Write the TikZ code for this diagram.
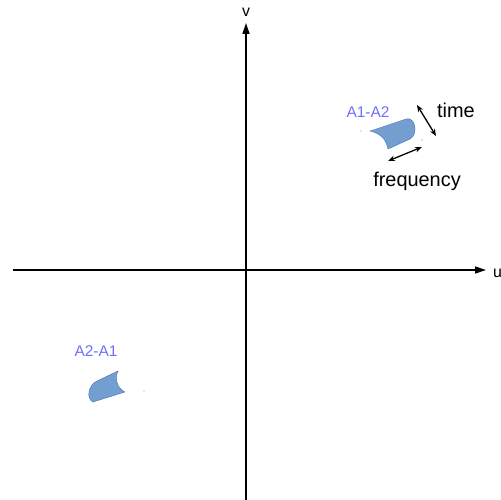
\documentclass[tikz,border=0pt]{standalone}
\usepackage{fontspec}
\setmainfont{Liberation Sans}
\usetikzlibrary{arrows.meta}
\definecolor{shapefill}{HTML}{729FCF}
\definecolor{shapeedge}{HTML}{3465A4}
\definecolor{lbl}{RGB}{112,112,255}
\tikzset{
  axis/.style={line width=1.4bp,-{Triangle[length=11bp,width=7bp]}},
  blob/.style={fill=shapefill,draw=shapeedge,line width=0.3bp},
  dbl/.style={line width=1.3bp,{Stealth[length=7bp,width=5.5bp]}-{Stealth[length=7bp,width=5.5bp]}},
  big/.style={font=\fontsize{20}{22}\selectfont,inner sep=0pt},
  small/.style={font=\fontsize{15.5}{17}\selectfont,inner sep=0pt,text=lbl},
  ax/.style={font=\fontsize{16}{18}\selectfont,inner sep=0pt}
}
\begin{document}
\begin{tikzpicture}[x=1bp,y=-1bp]
\useasboundingbox[fill=white] (0,0) rectangle (501,500);
% axes
\coordinate (xs) at (13,270);
\coordinate (xe) at (486,270);
\coordinate (ys) at (246,500);
\coordinate (ye) at (246,23);
\draw[axis] (xs) -- (xe);
\draw[axis] (ys) -- (ye);
\node[ax] (v) at (246,12) {v};
\node[ax,anchor=west] (u) at (493,273) {u};
% shape A1-A2
\draw[blob] (370,131) -- (406,119) .. controls (415,116) and (419,134) .. (410,139)
  -- (388,149) .. controls (386,140) and (382,134) .. (370,131) -- cycle;
\fill[shapefill] (361,131) circle (0.6);
\fill[shapefill] (422,140) circle (0.6);
% shape A2-A1
\draw[blob] (97,381) -- (118,371) .. controls (115,377) and (116,388) .. (125,392)
  -- (93,402) .. controls (86,399) and (88,385) .. (97,381) -- cycle;
\fill[shapefill] (144,391) circle (0.6);
% labels
\node[small] (a12) at (368,112) {A1-A2};
\node[small] (a21) at (96,351) {A2-A1};
\node[big] (time) at (456,110) {time};
\node[big] (freq) at (417,181) {frequency};
% arrows
\coordinate (t1) at (417,105);
\coordinate (t2) at (436,136);
\coordinate (f1) at (388,161);
\coordinate (f2) at (422,147);
\draw[dbl] (t1) -- (t2);
\draw[dbl] (f1) -- (f2);
\end{tikzpicture}
\end{document}
